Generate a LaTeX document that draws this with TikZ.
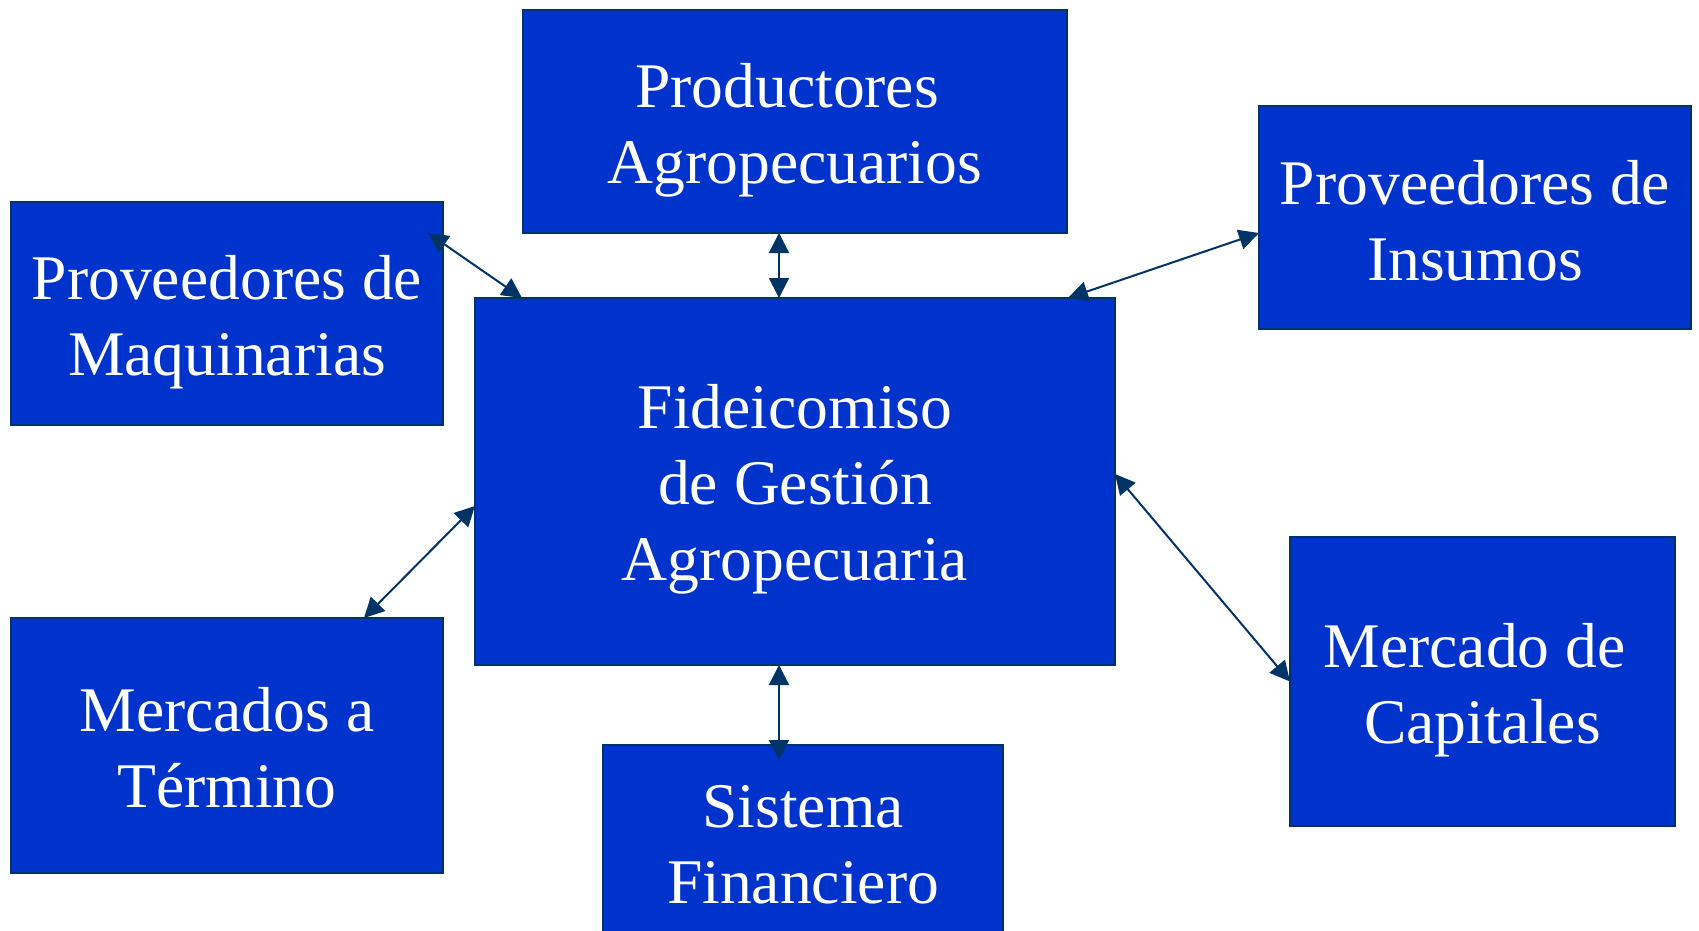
\documentclass[tikz,border=0pt]{standalone}
\usepackage{fontspec}
\setmainfont{Liberation Serif}
\usetikzlibrary{arrows.meta}
\definecolor{boxblue}{RGB}{0,51,204}
\definecolor{navy}{RGB}{0,51,102}
\tikzset{
  box/.style={draw=navy, line width=0.6pt, fill=boxblue,
    inner sep=0pt, outer sep=0pt},
  txt/.style={text=white, align=center, inner sep=0pt,
    font=\fontsize{31.8}{38}\selectfont},
  link/.style={draw=navy, line width=1pt,
    {Triangle[length=10pt,width=10pt]}-{Triangle[length=10pt,width=10pt]}}
}
\begin{document}
\begin{tikzpicture}[x=0.5pt,y=-0.5pt]
\useasboundingbox (0,0) rectangle (1699,931);
\clip (0,0) rectangle (1699,931);
\node[box, minimum width=272pt, minimum height=111.5pt,
  label={[txt,yshift=-4.25pt]center:{Productores\hspace*{0.25em}\\Agropecuarios}}] (prod) at (795,121.5) {};
\node[box, minimum width=216pt, minimum height=111.5pt,
  label={[txt,yshift=-4.25pt]center:{Proveedores de\\Maquinarias}}] (maq) at (227,313.5) {};
\node[box, minimum width=216pt, minimum height=111.5pt,
  label={[txt,yshift=-1.6pt]center:{Proveedores de\\Insumos}}] (ins) at (1475,217.5) {};
\node[box, minimum width=320pt, minimum height=183.5pt,
  label={[txt,yshift=-3.8pt]center:{Fideicomiso\\de Gestión\\Agropecuaria}}] (fid) at (795,481.5) {};
\node[box, minimum width=216pt, minimum height=127.5pt,
  label={[txt,yshift=-1pt]center:{Mercados a\\Término}}] (ter) at (227,745.5) {};
\node[box, minimum width=200pt, minimum height=100pt,
  label={[txt]center:{Sistema\\Financiero}}] (sis) at (803,845) {};
\node[box, minimum width=192.5pt, minimum height=144.5pt,
  label={[txt,yshift=-4.25pt]center:{Mercado de\hspace*{0.25em}\\Capitales}}] (cap) at (1482.5,681.5) {};
\draw[link] ([xshift=-8pt]prod.south) -- ([xshift=-8pt]fid.north);
\draw[link] ([xshift=-7.5pt,yshift=-15.5pt]maq.north east) -- ([xshift=23.5pt]fid.north west);
\draw[link] ([xshift=-23.5pt]fid.north east) -- ([yshift=-7.75pt]ins.west);
\draw[link] ([yshift=-12.25pt]fid.west) -- ([xshift=-39.5pt]ter.north east);
\draw[link] ([yshift=3.75pt]fid.east) -- (cap.west);
\draw[link] ([xshift=-8pt]fid.south) -- ([xshift=-12pt,yshift=-7.5pt]sis.north);
\end{tikzpicture}
\end{document}
